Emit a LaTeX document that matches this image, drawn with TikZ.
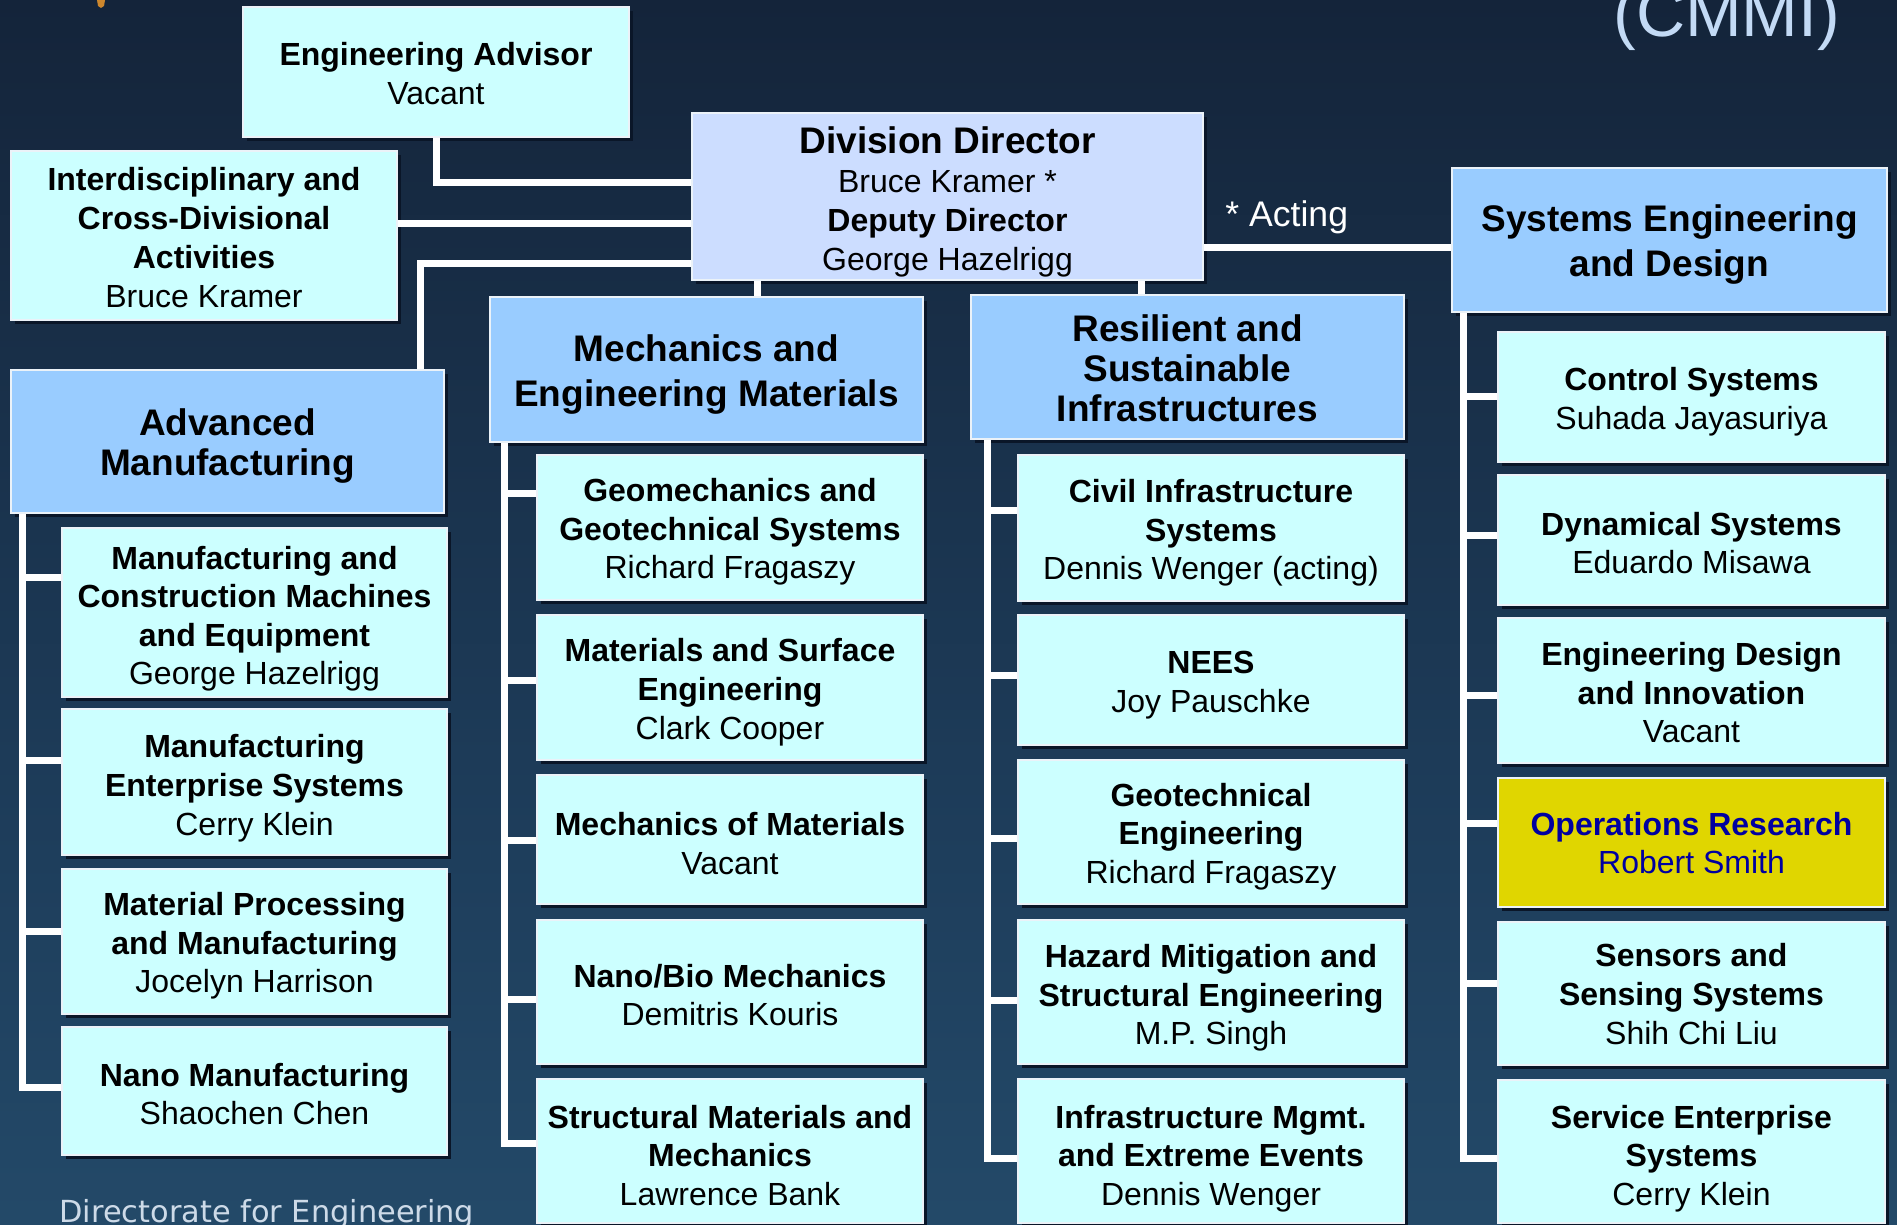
\documentclass[tikz,border=0pt]{standalone}
\usepackage{fontspec}
\setmainfont{Liberation Sans}
\newfontfamily\djvfont{DejaVu Sans}
\usetikzlibrary{shadows}
\definecolor{cyanbox}{RGB}{204,255,255}
\definecolor{hdrblue}{RGB}{153,204,255}
\definecolor{dirbox}{RGB}{204,221,255}
\definecolor{yelbox}{RGB}{224,214,0}
\definecolor{ortext}{RGB}{0,0,160}
\definecolor{shadowc}{RGB}{10,22,40}
\definecolor{boxline}{RGB}{235,242,248}
\definecolor{cmmic}{RGB}{195,218,245}
\definecolor{dirtext}{RGB}{205,218,232}
\definecolor{orangec}{RGB}{205,135,45}
\definecolor{bgtop}{RGB}{11,16,28}
\definecolor{bgmidA}{RGB}{20,36,58}
\definecolor{bgmidB}{RGB}{30,62,92}
\definecolor{bgbot}{RGB}{44,92,125}
\pgfdeclareverticalshading{bgshade}{100bp}{color(0bp)=(bgbot); color(40bp)=(bgmidB); color(75bp)=(bgmidA); color(100bp)=(bgtop)}
% #1 text shift down (pt), #2 style, #3 name, #4..#7 box corners in px, #8 text
\newcommand\orgbox[8][2]{%
  \pgfmathsetmacro\obcx{(#4+#6)/2}%
  \pgfmathsetmacro\obcy{(#5+#7)/2}%
  \pgfmathsetmacro\obw{(#6-#4)/2}%
  \pgfmathsetmacro\obh{(#7-#5)/2}%
  \node[#2, minimum width=\obw pt, minimum height=\obh pt] (#3) at (\obcx,\obcy)
    {\raisebox{-#1pt}[\height][\depth]{\begin{tabular}{@{}c@{}}#8\end{tabular}}};%
}
\tikzset{
  box/.style={draw=boxline, line width=1pt, fill=cyanbox,
    drop shadow={shadow xshift=2pt, shadow yshift=-2pt, fill=shadowc, opacity=1},
    inner sep=2pt, text=black, font=\fontsize{16}{19.3}\selectfont},
  topbox/.style={box, font=\fontsize{16}{19.4}\selectfont},
  dirstyle/.style={box, fill=dirbox, font=\fontsize{16}{19.4}\selectfont},
  hdr/.style={box, fill=hdrblue, font=\bfseries\fontsize{18.5}{22.4}\selectfont},
  hdrtight/.style={box, fill=hdrblue, font=\bfseries\fontsize{18.5}{20}\selectfont},
  yelstyle/.style={box, fill=yelbox, text=ortext},
  conn/.style={draw=white, line width=3.5pt},
}
\begin{document}
\begin{tikzpicture}[x=0.5pt, y=-0.5pt]
\useasboundingbox (0,0) rectangle (1897,1225);
\clip (0,0) rectangle (1897,1225);
\shade[shading=bgshade] (0,0) rectangle (1897,1225);
% decorations of the slide
\fill[orangec] (97,0) -- (105,0) -- (104,6) -- (101,8) -- (98,6) -- cycle;
\node[anchor=base west, inner sep=0, text=cmmic, font=\fontsize{34}{38}\selectfont] (cmmi) at (1613,37) {(CMMI)};
\node[anchor=base west, inner sep=0, text=dirtext, font=\djvfont\fontsize{15.2}{18}\selectfont] (dire) at (59,1222) {Directorate for Engineering};
\node[anchor=base west, inner sep=0, text=white, font=\fontsize{17.8}{20}\selectfont] (acting) at (1225,227) {* Acting};

% top level
\orgbox[2.8]{topbox}{eadv}{243}{7}{629}{137}{\textbf{Engineering Advisor}\\Vacant}
\orgbox[2.8]{topbox}{idc}{11}{151}{397}{320}{\textbf{Interdisciplinary and}\\\textbf{Cross-Divisional}\\\textbf{Activities}\\Bruce Kramer}
\orgbox[3.9]{dirstyle}{dir}{692}{113}{1203}{280}{{\bfseries\fontsize{18.5}{20.6}\selectfont Division Director}\\Bruce Kramer *\\\textbf{Deputy Director}\\George Hazelrigg}
\orgbox[2.7]{hdr}{sed}{1452}{168}{1887}{312}{Systems Engineering\\and Design}
\orgbox[3.0]{hdrtight}{advm}{11}{370}{444}{513}{Advanced\\Manufacturing}
\orgbox[2.9]{hdr}{mem}{490}{297}{923}{442}{Mechanics and\\Engineering Materials}
\orgbox[3.2]{hdrtight}{rsi}{971}{295}{1404}{439}{Resilient and\\Sustainable\\Infrastructures}

% Advanced Manufacturing
\orgbox[3.4]{box}{mcm}{62}{528}{447}{697}{\textbf{Manufacturing and}\\\textbf{Construction Machines}\\\textbf{and Equipment}\\George Hazelrigg}
\orgbox[3.4]{box}{mes}{62}{709}{447}{855}{\textbf{Manufacturing}\\\textbf{Enterprise Systems}\\Cerry Klein}
\orgbox[2.4]{box}{mpm}{62}{869}{447}{1014}{\textbf{Material Processing}\\\textbf{and Manufacturing}\\Jocelyn Harrison}
\orgbox[3.3]{box}{nmf}{62}{1027}{447}{1155}{\textbf{Nano Manufacturing}\\Shaochen Chen}

% Mechanics and Engineering Materials
\orgbox[2.5]{box}{geo}{537}{455}{923}{600}{\textbf{Geomechanics and}\\\textbf{Geotechnical Systems}\\Richard Fragaszy}
\orgbox[2.6]{box}{mse}{537}{615}{923}{760}{\textbf{Materials and Surface}\\\textbf{Engineering}\\Clark Cooper}
\orgbox[3.9]{box}{mom}{537}{775}{923}{904}{\textbf{Mechanics of Materials}\\Vacant}
\orgbox[3.3]{box}{nbm}{537}{920}{923}{1064}{\textbf{Nano/Bio Mechanics}\\Demitris Kouris}
\orgbox[4.0]{box}{smm}{537}{1079}{923}{1223}{\textbf{Structural Materials and}\\\textbf{Mechanics}\\Lawrence Bank}

% Resilient and Sustainable Infrastructures
\orgbox[2.8]{box}{cis}{1018}{455}{1404}{601}{\textbf{Civil Infrastructure}\\\textbf{Systems}\\Dennis Wenger (acting)}
\orgbox[2.7]{box}{nees}{1018}{615}{1404}{745}{\textbf{NEES}\\Joy Pauschke}
\orgbox[2.6]{box}{gte}{1018}{760}{1404}{904}{\textbf{Geotechnical}\\\textbf{Engineering}\\Richard Fragaszy}
\orgbox[3.2]{box}{hms}{1018}{920}{1404}{1064}{\textbf{Hazard Mitigation and}\\\textbf{Structural Engineering}\\M.P. Singh}
\orgbox[4.0]{box}{ime}{1018}{1079}{1404}{1223}{\textbf{Infrastructure Mgmt.}\\\textbf{and Extreme Events}\\Dennis Wenger}

% Systems Engineering and Design
\orgbox[2.7]{box}{cs}{1498}{332}{1885}{462}{\textbf{Control Systems}\\Suhada Jayasuriya}
\orgbox[3.3]{box}{ds}{1498}{475}{1885}{605}{\textbf{Dynamical Systems}\\Eduardo Misawa}
\orgbox[2.9]{box}{edi}{1498}{618}{1885}{763}{\textbf{Engineering Design}\\\textbf{and Innovation}\\Vacant}
\orgbox[2.1]{yelstyle}{orr}{1498}{778}{1885}{907}{\textbf{Operations Research}\\Robert Smith}
\orgbox[2.1]{box}{sss}{1498}{922}{1885}{1065}{\textbf{Sensors and}\\\textbf{Sensing Systems}\\Shih Chi Liu}
\orgbox[3.8]{box}{ses}{1498}{1080}{1885}{1223}{\textbf{Service Enterprise}\\\textbf{Systems}\\Cerry Klein}

% connectors from the director
\draw[conn] (eadv.south) |- ([yshift=6.75pt]dir.west);
\draw[conn] ([yshift=5.75pt]idc.east) -- ([yshift=5.75pt]idc.east -| dir.west);
\draw[conn] ([yshift=-33.75pt]dir.west) -| ([xshift=96.25pt]advm.north);
\draw[conn] ([xshift=25.25pt]mem.north) -- ([xshift=25.25pt]mem.north |- dir.south);
\draw[conn] ([xshift=-23.25pt]rsi.north) -- ([xshift=-23.25pt]rsi.north |- dir.south);
\draw[conn] ([yshift=-4pt]sed.west) -- ([yshift=-4pt]sed.west -| dir.east);

% Advanced Manufacturing spine
\draw[conn] ([xshift=-102.75pt]advm.south) |- ([yshift=17.75pt]mcm.west);
\draw[conn] ([xshift=-102.75pt]advm.south) |- ([yshift=11pt]mes.west);
\draw[conn] ([xshift=-102.75pt]advm.south) |- ([yshift=5.25pt]mpm.west);
\draw[conn] ([xshift=-102.75pt]advm.south) |- ([yshift=2pt]nmf.west);

% Mechanics spine
\draw[conn] ([xshift=-101.25pt]mem.south) |- ([yshift=17.25pt]geo.west);
\draw[conn] ([xshift=-101.25pt]mem.south) |- ([yshift=3.75pt]mse.west);
\draw[conn] ([xshift=-101.25pt]mem.south) |- ([yshift=-0.25pt]mom.west);
\draw[conn] ([xshift=-101.25pt]mem.south) |- ([yshift=-3.5pt]nbm.west);
\draw[conn] ([xshift=-101.25pt]mem.south) |- ([yshift=4pt]smm.west);

% Resilient spine
\draw[conn] ([xshift=-100.25pt]rsi.south) |- ([yshift=9pt]cis.west);
\draw[conn] ([xshift=-100.25pt]rsi.south) |- ([yshift=2.5pt]nees.west);
\draw[conn] ([xshift=-100.25pt]rsi.south) |- ([yshift=-3pt]gte.west);
\draw[conn] ([xshift=-100.25pt]rsi.south) |- ([yshift=-4pt]hms.west);
\draw[conn] ([xshift=-100.25pt]rsi.south) |- ([yshift=-3.5pt]ime.west);

% Systems spine
\draw[conn] ([xshift=-103.25pt]sed.south) |- (cs.west);
\draw[conn] ([xshift=-103.25pt]sed.south) |- ([yshift=2.5pt]ds.west);
\draw[conn] ([xshift=-103.25pt]sed.south) |- ([yshift=-2.25pt]edi.west);
\draw[conn] ([xshift=-103.25pt]sed.south) |- ([yshift=9.75pt]orr.west);
\draw[conn] ([xshift=-103.25pt]sed.south) |- ([yshift=5.25pt]sss.west);
\draw[conn] ([xshift=-103.25pt]sed.south) |- ([yshift=-3.25pt]ses.west);
\end{tikzpicture}
\end{document}
